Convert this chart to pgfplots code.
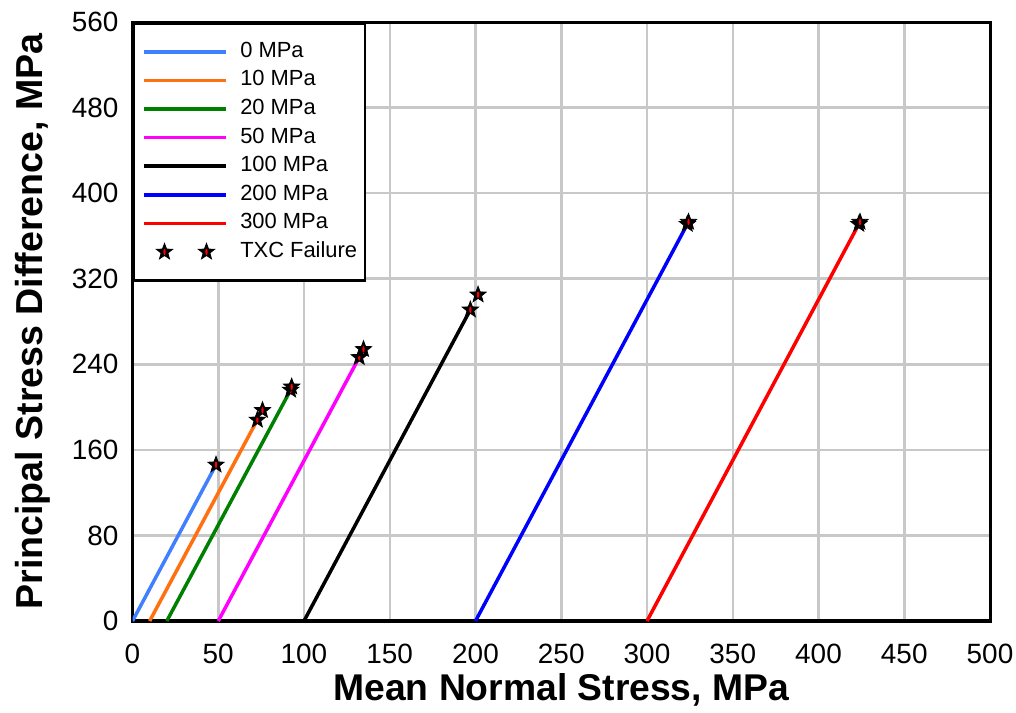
\documentclass[border=0pt]{standalone}
\usepackage{fontspec}
\setmainfont{Liberation Sans}
\usepackage{pgfplots}
\pgfplotsset{compat=1.18}
\definecolor{c0}{RGB}{64,128,255}
\definecolor{c10}{RGB}{255,112,16}
\definecolor{c20}{RGB}{0,128,0}
\definecolor{c50}{RGB}{255,0,255}
\definecolor{c100}{RGB}{0,0,0}
\definecolor{c200}{RGB}{0,0,255}
\definecolor{c300}{RGB}{255,0,0}
\definecolor{gridgray}{RGB}{200,200,200}
\pgfdeclareplotmark{txcstar}{%
  \pgfsetfillcolor{black}%
  \pgfpathmoveto{\pgfpointpolar{90}{\pgfplotmarksize}}%
  \pgfpathlineto{\pgfpointpolar{126}{0.42\pgfplotmarksize}}%
  \pgfpathlineto{\pgfpointpolar{162}{\pgfplotmarksize}}%
  \pgfpathlineto{\pgfpointpolar{198}{0.42\pgfplotmarksize}}%
  \pgfpathlineto{\pgfpointpolar{234}{\pgfplotmarksize}}%
  \pgfpathlineto{\pgfpointpolar{270}{0.42\pgfplotmarksize}}%
  \pgfpathlineto{\pgfpointpolar{306}{\pgfplotmarksize}}%
  \pgfpathlineto{\pgfpointpolar{342}{0.42\pgfplotmarksize}}%
  \pgfpathlineto{\pgfpointpolar{18}{\pgfplotmarksize}}%
  \pgfpathlineto{\pgfpointpolar{54}{0.42\pgfplotmarksize}}%
  \pgfpathclose
  \pgfusepathqfillstroke
  \pgfsetfillcolor{red}%
  \pgfpathellipse{\pgfpointorigin}{\pgfpoint{0.14\pgfplotmarksize}{0pt}}{\pgfpoint{0pt}{0.38\pgfplotmarksize}}%
  \pgfusepathqfill
}
\pgfplotsset{
  linelegend/.style={legend image code/.code={\draw[##1] (0bp,0bp) -- (82bp,0bp); \path (95bp,0bp);}},
  starlegend/.style={legend image code/.code={\draw[##1] plot[only marks] coordinates {(21bp,0bp) (63bp,0bp)}; \path (95bp,0bp);}},
}
\begin{document}
\begin{tikzpicture}
\begin{axis}[
  at={(132.5bp,92bp)}, anchor=south west,
  scale only axis, width=857.5bp, height=599bp,
  xmin=0, xmax=500, ymin=0, ymax=560,
  xtick={0,50,...,500}, ytick={0,80,...,560},
  grid=major,
  major grid style={color=gridgray, line width=2.5bp},
  axis line style={line width=3bp, black},
  major tick length=0pt,
  /pgf/number format/assume math mode=true,
  xticklabel style={font=\fontsize{28}{30}\selectfont, anchor=north, inner sep=0pt, yshift=-23bp},
  yticklabel style={font=\fontsize{28}{30}\selectfont, anchor=east, inner sep=0pt, xshift=-14bp},
  xlabel={\bfseries Mean Normal Stress, MPa},
  ylabel={\bfseries Principal Stress Difference, MPa},
  xlabel style={font=\fontsize{37.4}{40}\selectfont, at={(axis description cs:0.5,-0.1152)}, anchor=center},
  ylabel style={font=\fontsize{37.7}{40}\selectfont, at={(axis description cs:-0.1166,0.5)}, anchor=center},
  legend style={at={(axis description cs:0,1)}, anchor=north west, draw=black, line width=2.5bp, fill=white,
    font=\fontsize{22}{24}\selectfont, inner xsep=8bp, inner ysep=18bp, row sep=7.6bp,
    nodes={inner sep=0pt, text height=16bp, text depth=5bp}},
  legend cell align=left,
  linelegend,
]
\addplot[c0, line width=3.5bp] coordinates {(0,0) (48.7,146)};
\addlegendentry{0 MPa}
\addplot[c10, line width=3.5bp] coordinates {(10,0) (72.8,188)};
\addlegendentry{10 MPa}
\addplot[c20, line width=3.5bp] coordinates {(20,0) (92.2,216)};
\addlegendentry{20 MPa}
\addplot[c50, line width=3.5bp] coordinates {(50,0) (132.2,246.5)};
\addlegendentry{50 MPa}
\addplot[c100, line width=3.5bp] coordinates {(100,0) (197,291)};
\addlegendentry{100 MPa}
\addplot[c200, line width=3.5bp] coordinates {(200,0) (323.5,371)};
\addlegendentry{200 MPa}
\addplot[c300, line width=3.5bp] coordinates {(300,0) (423.5,371)};
\addlegendentry{300 MPa}
\addplot[only marks, mark=txcstar, mark size=8.5bp, mark options={draw=black, fill=black, line width=0.8bp}, starlegend]
  coordinates {
  (48.7,146)
  (72.8,188) (75.8,197)
  (92.2,216) (92.8,219)
  (132.2,246.5) (134.7,254)
  (197,291) (201.5,305)
  (323.5,371) (324.2,373)
  (423.5,371) (424.2,373)
  };
\addlegendentry{TXC Failure}
\end{axis}
\pgfresetboundingbox
\useasboundingbox (0,0) rectangle (1016bp,713bp);
\end{tikzpicture}
\end{document}
